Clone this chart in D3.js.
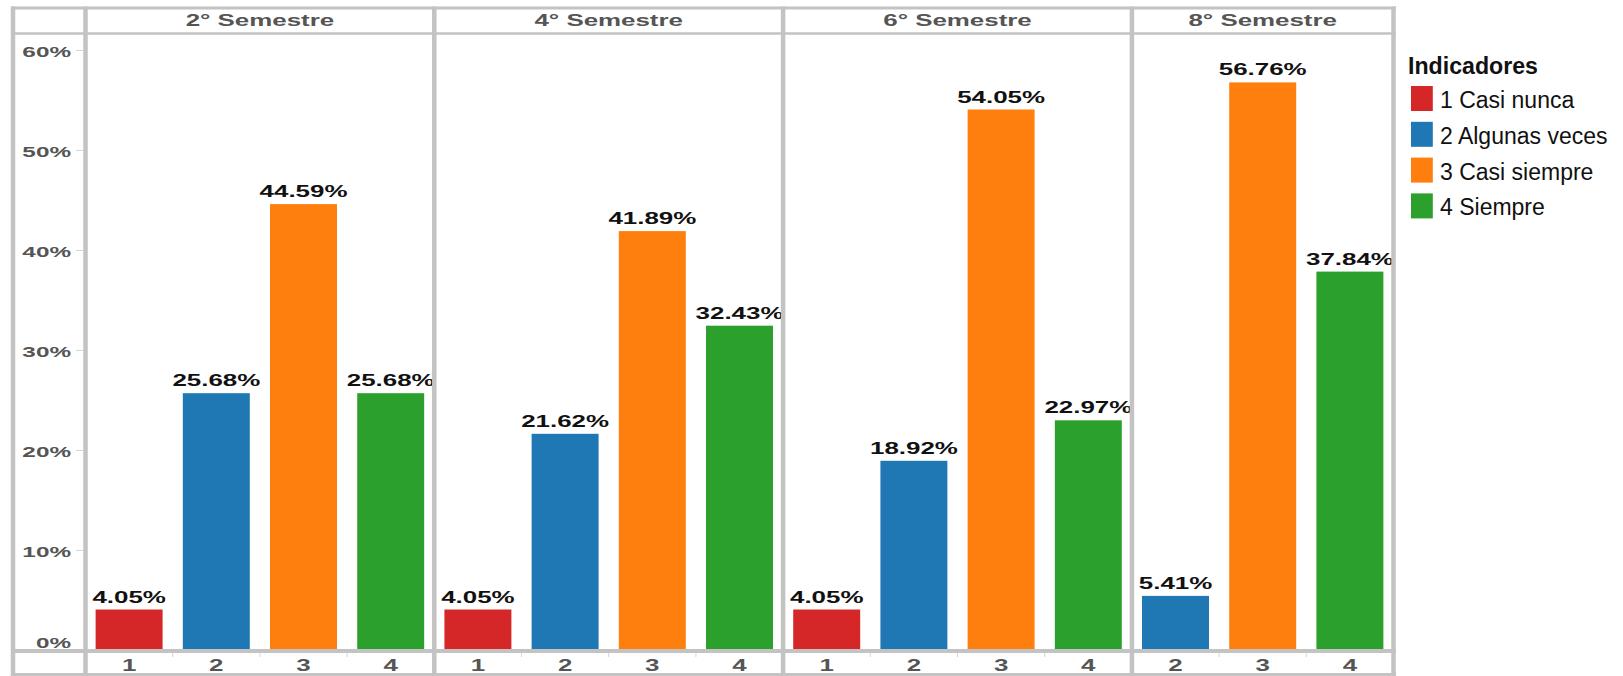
<!DOCTYPE html>
<html>
<head>
<meta charset="utf-8">
<script src="https://cdn.jsdelivr.net/npm/d3@7"></script>
<style>
  html, body { margin: 0; padding: 0; background: #fff; }
  svg { display: block; font-family: "Liberation Sans", Arial, sans-serif; }
</style>
</head>
<body>
<svg id="chart" width="1623" height="676"></svg>
<script>
// Semesters shown as facets, left to right
const semesters = ["2° Semestre", "4° Semestre", "6° Semestre", "8° Semestre"];
// Indicator codes on the x axis and their legend names
const codes = ["1", "2", "3", "4"];
const indicadores = ["1 Casi nunca", "2 Algunas veces", "3 Casi siempre", "4 Siempre"];
const colors = ["#d62728", "#1f77b4", "#ff7f0e", "#2ca02c"];
// Percentages per indicator (null = no answers in that semester)
const sem2 = [4.05, 25.68, 44.59, 25.68];
const sem4 = [4.05, 21.62, 41.89, 32.43];
const sem6 = [4.05, 18.92, 54.05, 22.97];
const sem8 = [null, 5.41, 56.76, 37.84];
const yTicks = [0, 10, 20, 30, 40, 50, 60];

const seriesBySemester = [sem2, sem4, sem6, sem8];

const svg = d3.select("#chart");
const grid = "#c3c3c3";
const textGray = "#555555";
const SX = 1.62; // horizontal stretch of the chart labels

const frameLeft = 13, frameRight = 1393.5, frameTop = 8, headerBottom = 33.5, axisY = 651, frameBottom = 674.5;
const plotX0 = 85.5, step = 87.2;

const y = d3.scaleLinear().domain([0, 61.5]).range([650, 35]);

// Build panels from the data
let cursor = plotX0;
const panels = semesters.map((name, i) => {
  const vals = seriesBySemester[i];
  const present = codes.filter((c, j) => vals[j] !== null);
  const x0 = cursor, x1 = cursor + present.length * step;
  cursor = x1;
  const x = d3.scaleBand().domain(present).range([x0, x1])
    .paddingInner(0.232).paddingOuter(0.116);
  const rows = present.map(c => {
    const j = codes.indexOf(c);
    return { code: c, value: vals[j], color: colors[j] };
  });
  return { name, x, x0, x1, rows };
});

function stretch(sel, sx) {
  sel.each(function () {
    const t = d3.select(this);
    const tx = +t.attr("data-x") || 0, ty = +t.attr("data-y") || 0;
    t.attr("x", null).attr("y", null)
      .attr("transform", `translate(${tx},${ty}) scale(${sx},1)`);
  });
}

// Bars and value labels
panels.forEach(p => {
  const g = svg.append("g");
  g.selectAll("rect").data(p.rows).join("rect")
    .attr("x", d => p.x(d.code))
    .attr("width", p.x.bandwidth())
    .attr("y", d => y(d.value))
    .attr("height", d => y(0) - y(d.value))
    .attr("fill", d => d.color);
  g.selectAll("text").data(p.rows).join("text")
    .attr("data-x", d => p.x(d.code) + p.x.bandwidth() / 2)
    .attr("data-y", d => y(d.value) - 7)
    .attr("text-anchor", "middle")
    .attr("font-size", 16).attr("font-weight", "bold").attr("fill", "#111")
    .text(d => d.value.toFixed(2) + "%")
    .call(stretch, SX);
});

// Y axis
const yAxis = svg.append("g").attr("transform", `translate(${plotX0 - 2.5},0)`)
  .call(d3.axisLeft(y).tickValues(yTicks).tickSize(7).tickFormat(d => d + "%"));
yAxis.select(".domain").remove();
yAxis.selectAll(".tick line").attr("stroke", "#d6d6d6");
yAxis.selectAll(".tick text")
  .attr("data-x", -12)
  .attr("data-y", d => d === 0 ? -3 : 6)
  .attr("dy", null)
  .attr("fill", textGray).attr("font-size", 15).attr("font-weight", "bold")
  .attr("font-family", "Liberation Sans, Arial, sans-serif")
  .attr("text-anchor", "end")
  .call(stretch, SX);
yAxis.selectAll(".tick").filter(d => d === 0).select("line").remove();

// X axes per panel
panels.forEach(p => {
  const ax = svg.append("g").attr("transform", `translate(0,${axisY})`)
    .call(d3.axisBottom(p.x).tickSize(0));
  ax.select(".domain").remove();
  ax.selectAll(".tick text")
    .attr("data-x", 0).attr("data-y", 20).attr("dy", null)
    .attr("fill", textGray).attr("font-size", 16).attr("font-weight", "bold")
    .attr("font-family", "Liberation Sans, Arial, sans-serif")
    .call(stretch, SX);
  // small separators between categories
  const inner = p.x.domain().slice(1);
  svg.append("g").selectAll("line").data(inner).join("line")
    .attr("x1", d => p.x(d) - p.x.step() * p.x.paddingInner() / 2)
    .attr("x2", d => p.x(d) - p.x.step() * p.x.paddingInner() / 2)
    .attr("y1", axisY + 2).attr("y2", axisY + 6)
    .attr("stroke", "#d6d6d6").attr("stroke-width", 1);
  // facet header
  svg.append("text")
    .attr("data-x", (p.x0 + p.x1) / 2).attr("data-y", 26)
    .attr("text-anchor", "middle")
    .attr("font-size", 16).attr("font-weight", "bold").attr("fill", textGray)
    .text(p.name)
    .call(stretch, SX);
});

// Grid frame
const frame = svg.append("g").attr("stroke", grid).attr("fill", "none");
const hLines = [
  { y: frameTop, w: 3 }, { y: headerBottom, w: 2.5 }, { y: axisY, w: 4 }, { y: frameBottom, w: 3 }
];
frame.selectAll("line.h").data(hLines).join("line").attr("class", "h")
  .attr("x1", frameLeft - 2).attr("x2", frameRight + 2.5)
  .attr("y1", d => d.y).attr("y2", d => d.y)
  .attr("stroke-width", d => d.w);
const vLines = [frameLeft, plotX0].concat(panels.map(p => p.x1));
frame.selectAll("line.v").data(vLines).join("line").attr("class", "v")
  .attr("x1", d => d).attr("x2", d => d)
  .attr("y1", frameTop - 1.5).attr("y2", 676)
  .attr("stroke-width", 4.5);

// Legend
const legend = svg.append("g");
legend.append("text")
  .attr("data-x", 1408).attr("data-y", 74)
  .attr("font-size", 24).attr("font-weight", "bold").attr("fill", "#111")
  .text("Indicadores")
  .call(stretch, 0.965);
const items = legend.selectAll("g.item").data(indicadores).join("g").attr("class", "item")
  .attr("transform", (d, i) => `translate(1411,${86 + i * 35.8})`);
items.append("rect").attr("width", 21.8).attr("height", 25).attr("fill", (d, i) => colors[i]);
items.append("text")
  .attr("data-x", 29).attr("data-y", 22)
  .attr("font-size", 23).attr("fill", "#111")
  .text(d => d)
  .call(stretch, 1.0);
</script>
</body>
</html>
